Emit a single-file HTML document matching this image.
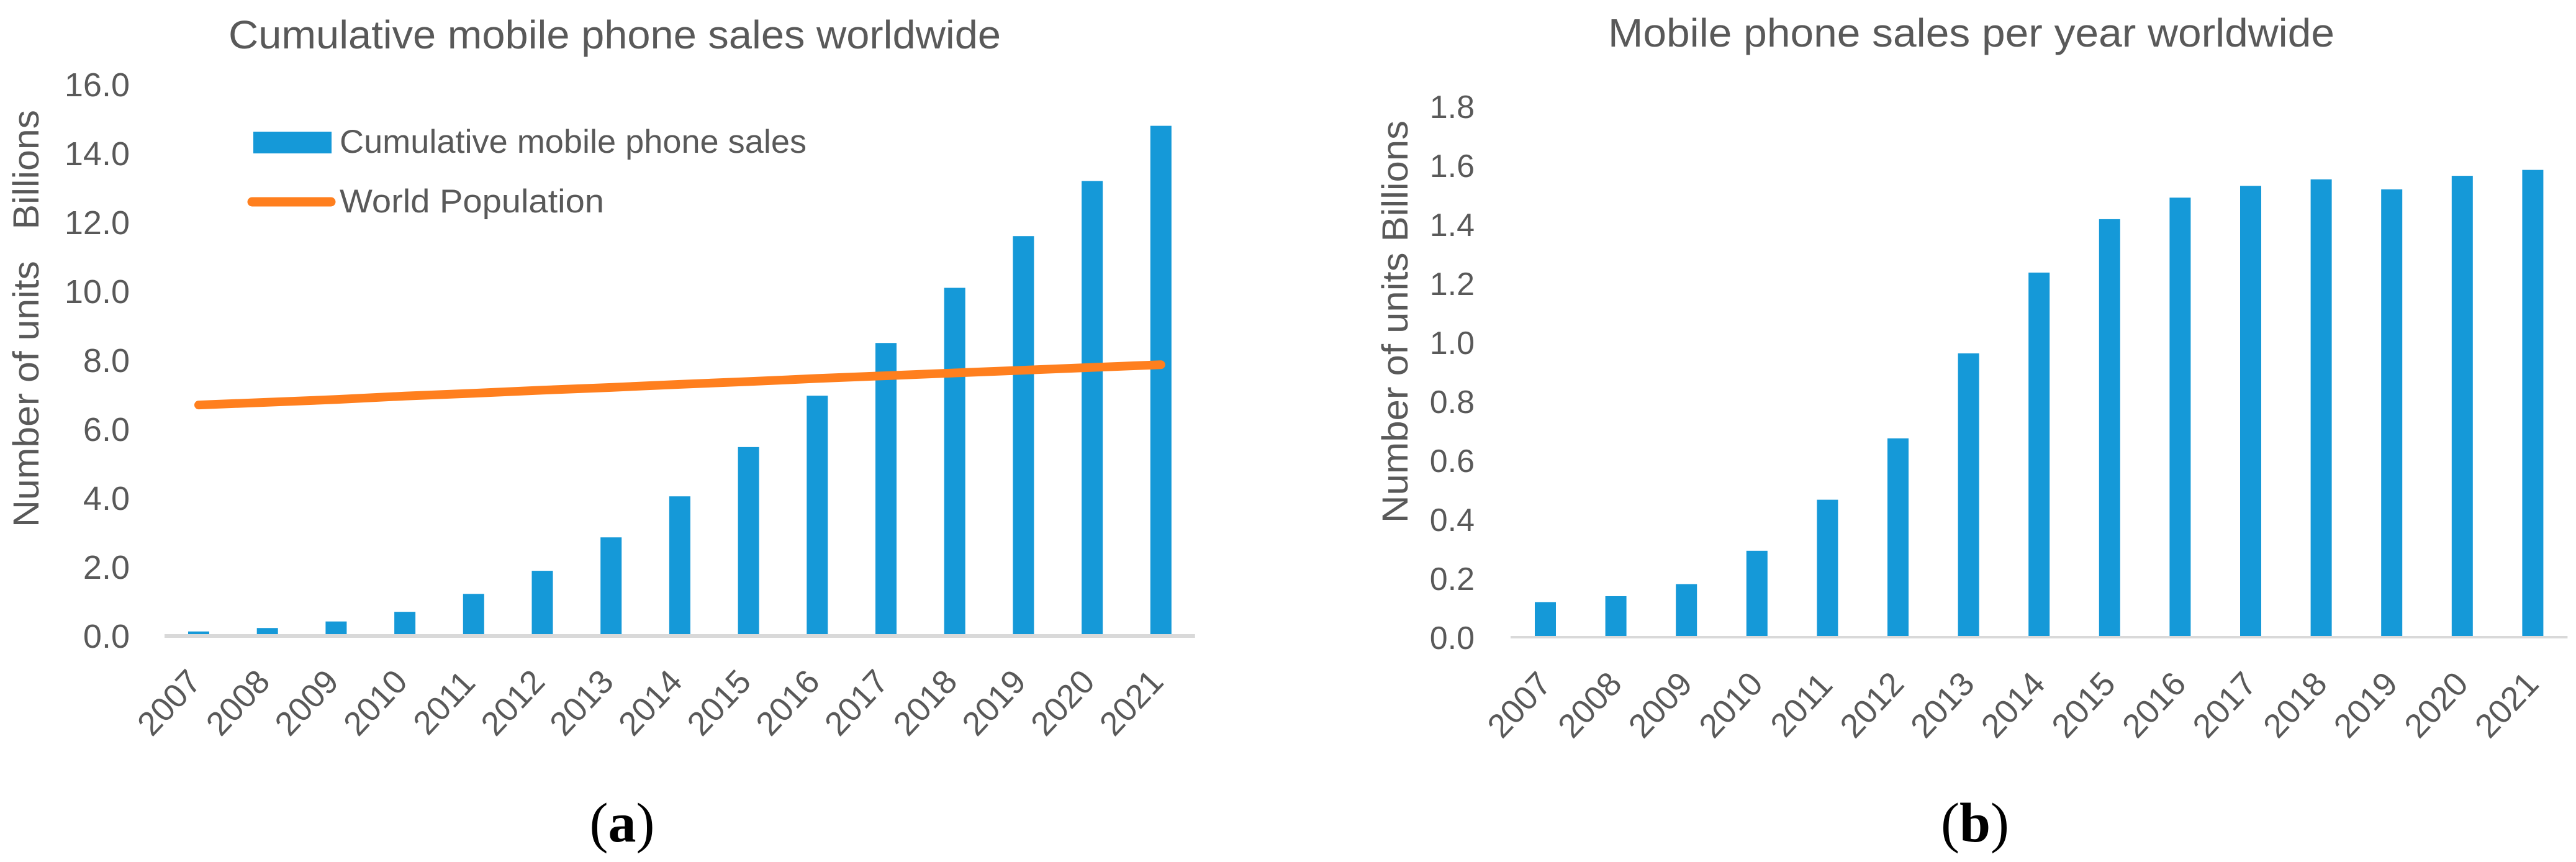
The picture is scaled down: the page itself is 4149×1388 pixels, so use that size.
<!DOCTYPE html>
<html lang="en">
<head>
<meta charset="utf-8">
<title>Mobile phone sales worldwide</title>
<style>
html,body{margin:0;padding:0;background:#fff;width:4149px;height:1388px;overflow:hidden}
svg{display:block}
text{font-family:"Liberation Sans",sans-serif;fill:#595959;white-space:pre}
.cap{font-family:"Liberation Serif",serif;fill:#000;font-size:90px}
</style>
</head>
<body>
<svg id="fig" xmlns="http://www.w3.org/2000/svg" width="4149" height="1388" viewBox="0 0 4149 1388">
  <rect width="4149" height="1388" fill="#ffffff"/>
  <g id="chartA">
    <text x="368" y="78" font-size="64" textLength="1244" lengthAdjust="spacingAndGlyphs">Cumulative mobile phone sales worldwide</text>
    <text transform="translate(62,849) rotate(-90)" font-size="58" textLength="672" lengthAdjust="spacingAndGlyphs">Number of units   Billions</text>
  </g>
  <g id="chartB">
    <text x="2590" y="75" font-size="64" textLength="1170" lengthAdjust="spacingAndGlyphs">Mobile phone sales per year worldwide</text>
    <text transform="translate(2267,842) rotate(-90)" font-size="58" textLength="648" lengthAdjust="spacingAndGlyphs">Number of units Billions</text>
  </g>
  <g id="legend">
    <rect x="408" y="212" width="126" height="35" fill="#1599d8"/>
    <text x="547" y="246" font-size="53" textLength="752" lengthAdjust="spacingAndGlyphs">Cumulative mobile phone sales</text>
    <line x1="406" y1="325" x2="533" y2="325" stroke="#ff7f1e" stroke-width="15" stroke-linecap="round"/>
    <text x="547" y="342" font-size="53" textLength="426" lengthAdjust="spacingAndGlyphs">World Population</text>
  </g>
  <text class="cap" x="1002" y="1355" text-anchor="middle">(<tspan font-weight="bold">a</tspan>)</text>
  <text class="cap" x="3181" y="1355" text-anchor="middle">(<tspan font-weight="bold">b</tspan>)</text>
</svg>
<script>
const years = ["2007","2008","2009","2010","2011","2012","2013","2014","2015","2016","2017","2018","2019","2020","2021"];
const cumulativeSales = [0.13,0.23,0.42,0.70,1.22,1.89,2.86,4.05,5.48,6.97,8.5,10.1,11.6,13.2,14.8];
const worldPopulation = [6.70,6.78,6.86,6.96,7.04,7.13,7.21,7.30,7.38,7.47,7.55,7.63,7.71,7.79,7.87];
const annualSales = [0.119,0.139,0.18,0.293,0.466,0.674,0.962,1.236,1.417,1.49,1.53,1.552,1.518,1.564,1.584];
const ticksA = ["0.0","2.0","4.0","6.0","8.0","10.0","12.0","14.0","16.0"];
const ticksB = ["0.0","0.2","0.4","0.6","0.8","1.0","1.2","1.4","1.6","1.8"];

const NS = "http://www.w3.org/2000/svg";
function make(parent, tag, attrs, txt) {
  const el = document.createElementNS(NS, tag);
  for (const k in attrs) el.setAttribute(k, attrs[k]);
  if (txt !== undefined) el.textContent = txt;
  parent.appendChild(el);
  return el;
}
function xA(i) { return 320 + 110.7 * i; }
function yA(v) { return 1024 - 55.5 * v; }
function xB(i) { return 2489 + 113.6 * i; }
function yB(v) { return 1026 - 475 * v; }

function drawChart(parent, prefix, values, ticks, xf, yf, opts) {
  ticks.forEach(function (t) {
    const el = make(parent, "text", {x: opts.tickX, y: yf(parseFloat(t)) + 19, "text-anchor": "end", "font-size": opts.tickSize}, t);
    
    
  });
  values.forEach(function (v, i) {
    const el = make(parent, "rect", {x: xf(i) - 17, y: yf(v), width: 34, height: yf(0) - yf(v), fill: "#1599d8"});
    
    
  });
  const axis = make(parent, "line", {x1: xf(0) - opts.gap, x2: xf(values.length - 1) + opts.gap, y1: yf(0), y2: yf(0), stroke: "#d9d9d9", "stroke-width": opts.axisW});
  
  
  years.forEach(function (y, i) {
    const el = make(parent, "text", {transform: "translate(" + (xf(i) + opts.labelDx) + "," + opts.labelY + ") rotate(-47)", y: 19, "text-anchor": "middle", "font-size": 54}, y);
    
    
  });
}

const chartA = document.getElementById("chartA");
const chartB = document.getElementById("chartB");
drawChart(chartA, "a", cumulativeSales, ticksA, xA, yA, {tickX: 209, tickSize: 54, gap: 55, axisW: 6, labelDx: -48, labelY: 1131});
drawChart(chartB, "b", annualSales, ticksB, xB, yB, {tickX: 2375, tickSize: 52, gap: 56, axisW: 4, labelDx: -42.5, labelY: 1134.5});

const pts = worldPopulation.map(function (v, i) { return xA(i) + "," + yA(v); }).join(" ");
const popLine = make(chartA, "polyline", {points: pts, fill: "none", stroke: "#ff7f1e", "stroke-width": 14, "stroke-linecap": "round", "stroke-linejoin": "round"});


</script>
</body>
</html>
